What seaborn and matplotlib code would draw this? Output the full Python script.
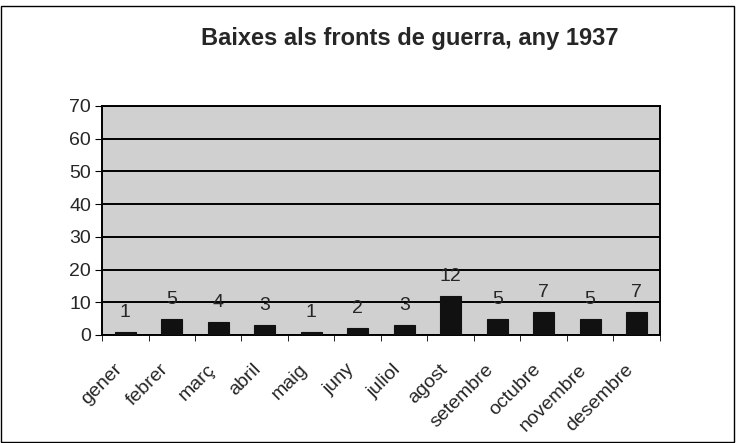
import numpy as np
import pandas as pd
import matplotlib
matplotlib.use('Agg')
import matplotlib.pyplot as plt
import matplotlib.transforms as mtransforms
import seaborn as sns

months = ['gener', 'febrer', 'març', 'abril', 'maig', 'juny', 'juliol',
          'agost', 'setembre', 'octubre', 'novembre', 'desembre']
baixes = [1, 5, 4, 3, 1, 2, 3, 12, 5, 7, 5, 7]
title = 'Baixes als fronts de guerra, any 1937'

sns.set_style('white')
plt.rcParams['font.family'] = ['Liberation Sans', 'DejaVu Sans']

df = pd.DataFrame({'mes': months, 'baixes': baixes})

fig = plt.figure(figsize=(7.36, 4.43), dpi=100)
ax = fig.add_axes([0.1386, 0.2438, 0.758, 0.517])

sns.barplot(data=df, x='mes', y='baixes', color='#111111', width=0.45,
            saturation=1, edgecolor='#111111', linewidth=0.8, ax=ax, zorder=3)
ax.set_facecolor('#d0d0d0')

ax.set_ylim(0, 70)
ax.set_yticks(np.arange(0, 71, 10))
ax.yaxis.grid(True, color='black', linewidth=1.4, zorder=1)
ax.set_axisbelow(True)
ax.set_xlim(-0.5, len(months) - 0.5)

for c in ax.containers:
    ax.bar_label(c, padding=8, fontsize=14)

ax.set_xlabel('')
ax.set_ylabel('')
ax.set_xticks(range(len(months)))
ax.set_xticklabels(months, rotation=45, ha='right', va='center',
                   rotation_mode='anchor', fontsize=14)
ax.tick_params(axis='x', length=0, pad=23)
ax.tick_params(axis='y', labelsize=14, length=5, left=True, color='black', pad=3)
# ticks between categories
ax.set_xticks(np.arange(-0.5, len(months), 1), minor=True)
ax.tick_params(axis='x', which='minor', length=4, bottom=True, color='black')

shift = mtransforms.ScaledTranslation(-6 / 100, 0, fig.dpi_scale_trans)
for lbl in ax.get_xticklabels():
    lbl.set_transform(lbl.get_transform() + shift)

for s in ax.spines.values():
    s.set_color('black')
    s.set_linewidth(1.4)

fig.text(0.557, 0.914, title, ha='center', va='center', fontsize=17, fontweight='bold')

# outer border
fig.patches.append(plt.Rectangle((0.002, 0.002), 0.995, 0.985, transform=fig.transFigure,
                                 fill=False, edgecolor='black', linewidth=1.0))

fig.savefig('out.png', dpi=100)
